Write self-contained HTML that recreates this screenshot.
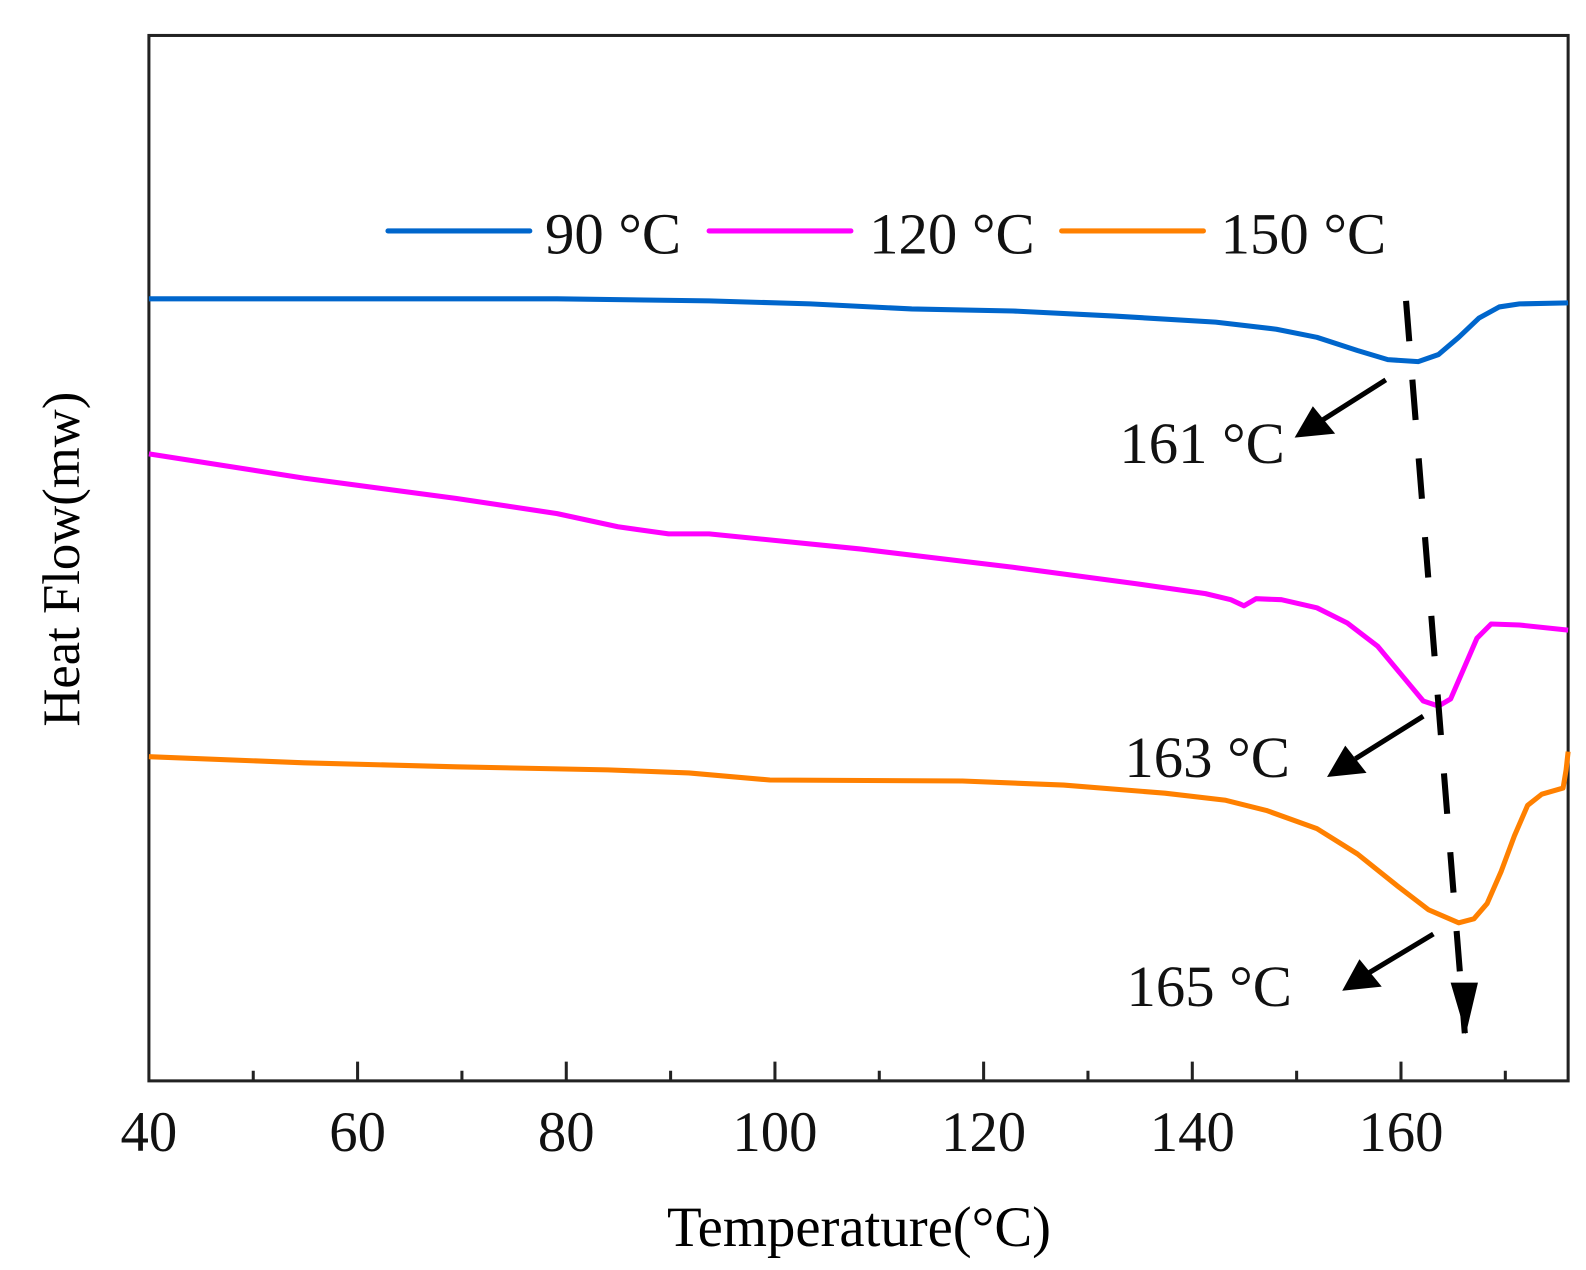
<!DOCTYPE html>
<html><head><style>body{margin:0;background:#fff}svg{display:block}</style></head><body>
<svg width="1586" height="1270" viewBox="0 0 1586 1270" xmlns="http://www.w3.org/2000/svg" font-family="Liberation Serif, serif">
<g transform="scale(1.013)">
<rect x="147" y="35" width="1401" height="1032" fill="none" stroke="#222" stroke-width="3"/>
<g stroke="#222" stroke-width="3">
<line x1="250" y1="1067" x2="250" y2="1057"/><line x1="353" y1="1067" x2="353" y2="1048"/>
<line x1="456" y1="1067" x2="456" y2="1057"/><line x1="559" y1="1067" x2="559" y2="1048"/>
<line x1="662" y1="1067" x2="662" y2="1057"/><line x1="765" y1="1067" x2="765" y2="1048"/>
<line x1="868" y1="1067" x2="868" y2="1057"/><line x1="971" y1="1067" x2="971" y2="1048"/>
<line x1="1074" y1="1067" x2="1074" y2="1057"/><line x1="1177" y1="1067" x2="1177" y2="1048"/>
<line x1="1280" y1="1067" x2="1280" y2="1057"/><line x1="1383" y1="1067" x2="1383" y2="1048"/>
<line x1="1486" y1="1067" x2="1486" y2="1057"/>
</g>
<g font-size="56" text-anchor="middle" fill="#111">
<text x="147" y="1136">40</text><text x="353" y="1136">60</text><text x="559" y="1136">80</text>
<text x="765" y="1136">100</text><text x="971" y="1136">120</text><text x="1177" y="1136">140</text><text x="1383" y="1136">160</text>
</g>
<text x="848" y="1230" font-size="56" text-anchor="middle">Temperature(°C)</text>
<text transform="translate(78,552) rotate(-90)" font-size="52" text-anchor="middle">Heat Flow(mw)</text>
<g fill="none" stroke-width="5" stroke-linejoin="round">
<path stroke="#0066cc" d="M147,295 L550,295 L700,297 L800,300 L900,305 L1000,307 L1100,312 L1200,318 L1260,325 L1300,333 L1340,346 L1370,355 L1400,357 L1420,350 L1440,333 L1460,314 L1480,303 L1500,300 L1548,299"/>
<path stroke="#ff00ff" d="M147,448 L300,472 L450,492 L550,507 L610,520 L660,527 L700,527 L850,542 L1000,560 L1120,576 L1190,586 L1215,592 L1228,598 L1240,591 L1265,592 L1300,600 L1330,615 L1360,638 L1385,668 L1405,692 L1420,697 L1432,690 L1445,660 L1458,630 L1472,616 L1500,617 L1548,622"/>
<path stroke="#ff8000" d="M147,747 L300,753 L450,757 L600,760 L680,763 L760,770 L950,771 L1050,775 L1150,783 L1210,790 L1250,800 L1300,818 L1340,843 L1380,875 L1410,898 L1440,911 L1455,907 L1468,892 L1482,860 L1495,825 L1508,795 L1522,784 L1543,778 L1546,760 L1548,742"/>
</g>
<path d="M1388,297 L1446,1020" stroke="#000" stroke-width="6" stroke-dasharray="40,38" fill="none"/>
<polygon points="1432,970 1459,970 1447,1021" fill="#000"/>
<g stroke="#000" stroke-width="5">
<line x1="1368" y1="375" x2="1305" y2="415"/><line x1="1405" y1="707" x2="1338" y2="749"/><line x1="1415" y1="922" x2="1352" y2="960"/>
</g>
<g fill="#000">
<polygon points="1278,432 1296,401 1318,428"/>
<polygon points="1310,767 1328,736 1349,763"/>
<polygon points="1325,978 1342,947 1364,974"/>
</g>
<g font-size="58" fill="#111">
<text x="1105" y="457">161 °C</text><text x="1110" y="767">163 °C</text><text x="1112" y="993">165 °C</text>
<text x="538" y="250">90 °C</text><text x="858" y="250">120 °C</text><text x="1205" y="250">150 °C</text>
</g>
<g stroke-width="5" stroke-linecap="round">
<line x1="383" y1="228" x2="523" y2="228" stroke="#0066cc"/>
<line x1="700" y1="228" x2="840" y2="228" stroke="#ff00ff"/>
<line x1="1048" y1="228" x2="1188" y2="228" stroke="#ff8000"/>
</g>
</g>
</svg>
</body></html>
